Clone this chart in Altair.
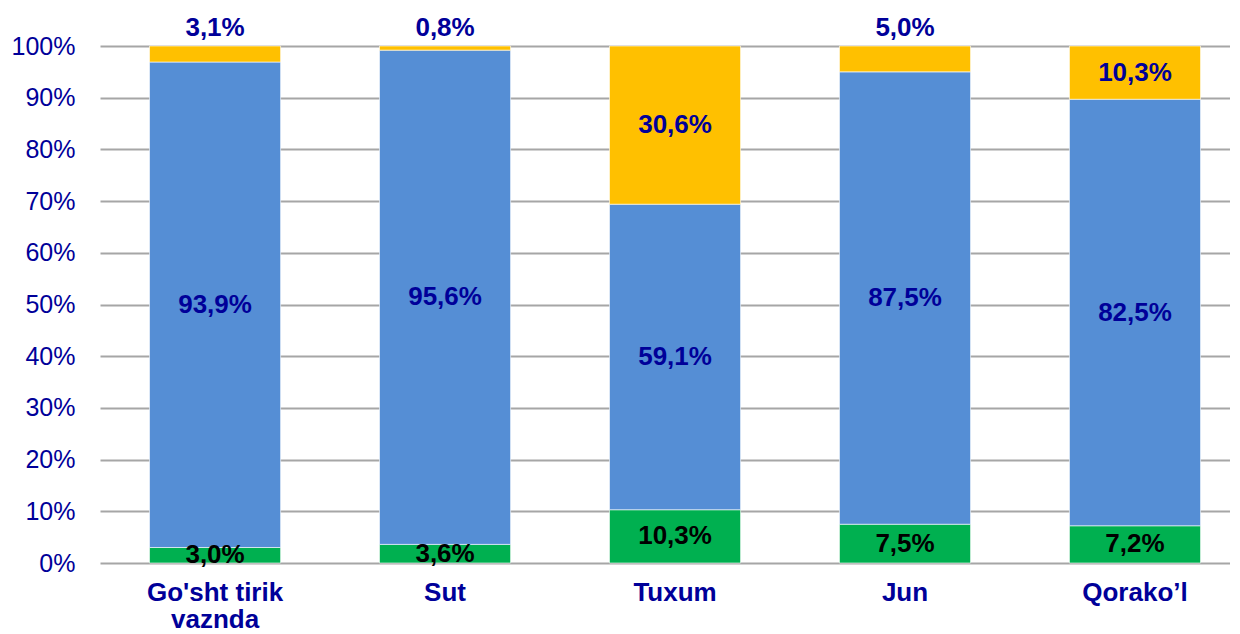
import altair as alt
import pandas as pd

categories = ["Go'sht tirik vaznda", "Sut", "Tuxum", "Jun", "Qorako\u2019l"]
series = ["green", "blue", "yellow"]
green_vals = [3.0, 3.6, 10.3, 7.5, 7.2]
blue_vals = [93.9, 95.6, 59.1, 87.5, 82.5]
yellow_vals = [3.1, 0.8, 30.6, 5.0, 10.3]
colors = ["#00B050", "#558ED5", "#FFC000"]
label_colors = ["#000000", "#000099", "#000099"]

rows = []
for i, c in enumerate(categories):
    base = 0.0
    for k, (s, vals) in enumerate(zip(series, [green_vals, blue_vals, yellow_vals])):
        v = vals[i]
        mid = base + v / 2
        if s == "yellow" and v < 6:
            ly = 100 + 3.4
        else:
            ly = mid
        rows.append({
            "cat": c, "series": s, "order": k, "value": v,
            "label": f"{v:.1f}".replace(".", ",") + "%",
            "ly": ly,
        })
        base += v
df = pd.DataFrame(rows)

xenc = alt.X("cat:N", sort=categories, title=None,
             scale=alt.Scale(paddingInner=0.43, paddingOuter=0.1717, align=0.627),
             axis=alt.Axis(labelAngle=0, domain=False, ticks=False, labelPadding=16,
                           labelFont="Liberation Sans", labelFontSize=26, labelFontWeight="bold",
                           labelColor="#000099", labelLineHeight=27, labelBaseline="top",
                           labelExpr="datum.value == \"Go'sht tirik vaznda\" ? [\"Go'sht tirik\", 'vaznda'] : datum.label"))

bars = alt.Chart(df).mark_bar(stroke="white", strokeWidth=0.6).encode(
    x=xenc,
    y=alt.Y("value:Q", stack="zero", title=None,
            scale=alt.Scale(domain=[0, 100], nice=False),
            axis=alt.Axis(values=list(range(0, 101, 10)), labelExpr="datum.value + '%'",
                          domain=False, ticks=False, labelPadding=25,
                          labelFont="Liberation Sans", labelFontSize=25, labelColor="#000099",
                          gridColor="#A6A6A6", gridWidth=2)),
    color=alt.Color("series:N", scale=alt.Scale(domain=series, range=colors), legend=None),
    order=alt.Order("order:Q"),
)

texts = alt.Chart(df).mark_text(font="Liberation Sans", fontSize=26, fontWeight="bold",
                                baseline="middle").encode(
    x=alt.X("cat:N", sort=categories),
    y=alt.Y("ly:Q"),
    text="label:N",
    color=alt.Color("series:N", scale=alt.Scale(domain=series, range=label_colors), legend=None),
)

chart = alt.layer(bars, texts).resolve_scale(color="independent").properties(
    width=1130, height=517,
    autosize=alt.AutoSizeParams(type="none"),
    padding={"left": 92, "top": 38, "right": 0, "bottom": 70},
).configure_view(stroke=None)

chart.save("out.html", embed_options={"renderer": "svg", "actions": False})
